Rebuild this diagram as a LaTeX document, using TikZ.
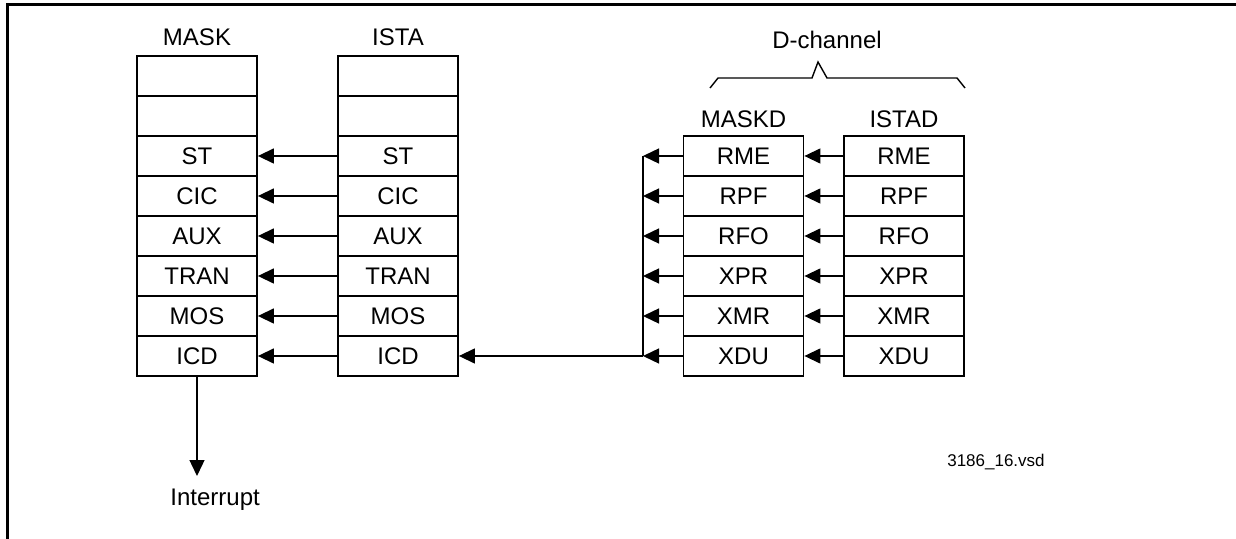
\documentclass[tikz,border=0pt]{standalone}
\usepackage{fontspec}
\setmainfont{Liberation Sans}
\usetikzlibrary{arrows.meta}

\begin{document}
\begin{tikzpicture}[x=0.5pt, y=-0.5pt, font=\fontsize{12}{14}\selectfont,
  reg/.style={draw, line width=0.9pt, minimum width=60pt, minimum height=20pt, inner sep=0pt},
  arr/.style={-{Triangle[length=8pt, width=7.5pt]}, line width=0.7pt},
  lbl/.style={inner sep=0pt}]
\useasboundingbox (0,0) rectangle (1236,539);
% frame
\draw[line width=1.5pt] (7,539) -- (7,5) -- (1236,5);
% column titles
\node[lbl] (tmask) at (197,37) {MASK};
\node[lbl] (tista) at (398,37) {ISTA};
\node[lbl] (tmaskd) at (743.5,119) {MASKD};
\node[lbl] (tistad) at (904,119) {ISTAD};
\node[lbl] (tdch) at (827,40) {D-channel};
\draw[line width=0.7pt] (710,88) -- (718,78) -- (812,78) -- (818,62) -- (827,78) -- (957,78) -- (965,88);
% empty rows
\node[reg] (maska) at (197,76) {};
\node[reg] (maskb) at (197,116) {};
\node[reg] (istaa) at (398,76) {};
\node[reg] (istab) at (398,116) {};
% MASK / ISTA rows
\foreach \r [count=\i] in {ST,CIC,AUX,TRAN,MOS,ICD} {
  \node[reg] (mask\i) at (197,116+40*\i) {\r};
  \node[reg] (ista\i) at (398,116+40*\i) {\r};
  \draw[arr] (ista\i.west) -- (mask\i.east);
}
% MASKD / ISTAD rows
\coordinate (bustop) at (643,156);
\coordinate (busbot) at (643,356);
\draw[line width=0.7pt] (bustop) -- (busbot);
\foreach \r [count=\i] in {RME,RPF,RFO,XPR,XMR,XDU} {
  \node[reg] (maskd\i) at (743.5,116+40*\i) {\r};
  \node[reg] (istad\i) at (904,116+40*\i) {\r};
  \draw[arr] (istad\i.west) -- (maskd\i.east);
  \draw[arr] (maskd\i.west) -- (maskd\i.west -| bustop);
}
\draw[arr] (busbot) -- (ista6.east);
% interrupt output
\coordinate (intpt) at (197,476);
\draw[arr] (mask6.south) -- (intpt);
\node[lbl, anchor=west] (intr) at (170,500) {Interrupt};
\node[lbl, font=\fontsize{8.5}{10}\selectfont] (fname) at (996,462) {3186\_16.vsd};
\end{tikzpicture}
\end{document}
